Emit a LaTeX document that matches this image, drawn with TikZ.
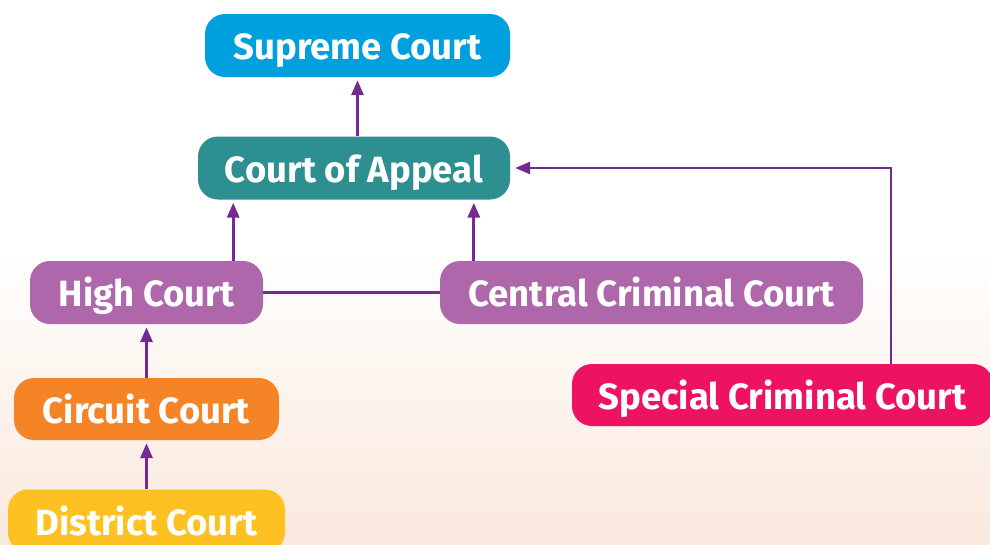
\documentclass[tikz,border=0pt]{standalone}
\usepackage{fontspec}
\setmainfont{Fira Sans}
\usepackage{xcolor}
\usepackage{tikz}
\usetikzlibrary{arrows.meta, positioning}

\definecolor{supremeblue}{HTML}{00A0DE}
\definecolor{appealteal}{HTML}{2E8F90}
\definecolor{highpurple}{HTML}{AD67AA}
\definecolor{circuitorange}{HTML}{F58426}
\definecolor{districtyellow}{HTML}{FDC221}
\definecolor{specialpink}{HTML}{EE1262}
\definecolor{linkpurple}{HTML}{742A8F}
\definecolor{peach}{HTML}{FAE8DC}

\begin{document}
\begin{tikzpicture}[
    x=1pt, y=-1pt,
    court/.style={
        rectangle, rounded corners=20pt,
        draw=none, text=white,
        minimum height=63pt,
        inner sep=0pt,
        text height=28.5pt, text depth=0pt,
        font=\fontsize{36.5}{40}\selectfont\bfseries,
        align=center
    },
    arrow/.style={-{Triangle[length=15pt, width=12pt]}, line width=3.2pt, linkpurple},
    link/.style={line width=3.2pt, linkpurple},
]

% Sfondo
\useasboundingbox (0,0) rectangle (990,544);
\begin{scope}
\clip (0,0) rectangle (990,544);
\fill[white] (0,0) rectangle (990,250);
\shade[top color=white, bottom color=peach] (0,250) rectangle (990,544);

% Corti
\node[court, fill=supremeblue,    minimum width=305pt] (supreme)  at (357.5,45.5) {Supreme Court};
\node[court, fill=appealteal,     minimum width=312pt] (appeal)   at (354,168)    {Court of Appeal};
\node[court, fill=highpurple,     minimum width=233pt] (high)     at (146.5,292.5) {High Court};
\node[court, fill=highpurple,     minimum width=423pt] (central)  at (651.5,292.5) {Central Criminal Court};
\node[court, fill=circuitorange,  minimum width=265pt, minimum height=62pt] (circuit)  at (146.5,409) {Circuit Court};
\node[court, fill=districtyellow, minimum width=277pt] (district) at (146.5,521) {District Court};
\node[court, fill=specialpink,    minimum width=421pt, minimum height=62pt] (special)  at (782.5,395) {Special Criminal Court};

% Collegamenti
\draw[arrow] (appeal.north -| supreme.south) -- ([yshift=-3pt]supreme.south);
\draw[arrow] ([xshift=-30pt]high.north east) -- ([xshift=-30pt, yshift=-3pt]high.north east |- appeal.south);
\draw[arrow] ([xshift=34pt]central.north west) -- ([xshift=34pt, yshift=-3pt]central.north west |- appeal.south);
\draw[link] (high.east) -- (central.west);
\draw[arrow] (circuit.north) -- ([yshift=-3pt]high.south);
\draw[arrow] (district.north) -- ([yshift=-3pt]circuit.south);
\draw[arrow, line width=2.4pt] ([xshift=-102pt]special.north east) |- ([xshift=5pt]appeal.east);
\end{scope}

\end{tikzpicture}
\end{document}
